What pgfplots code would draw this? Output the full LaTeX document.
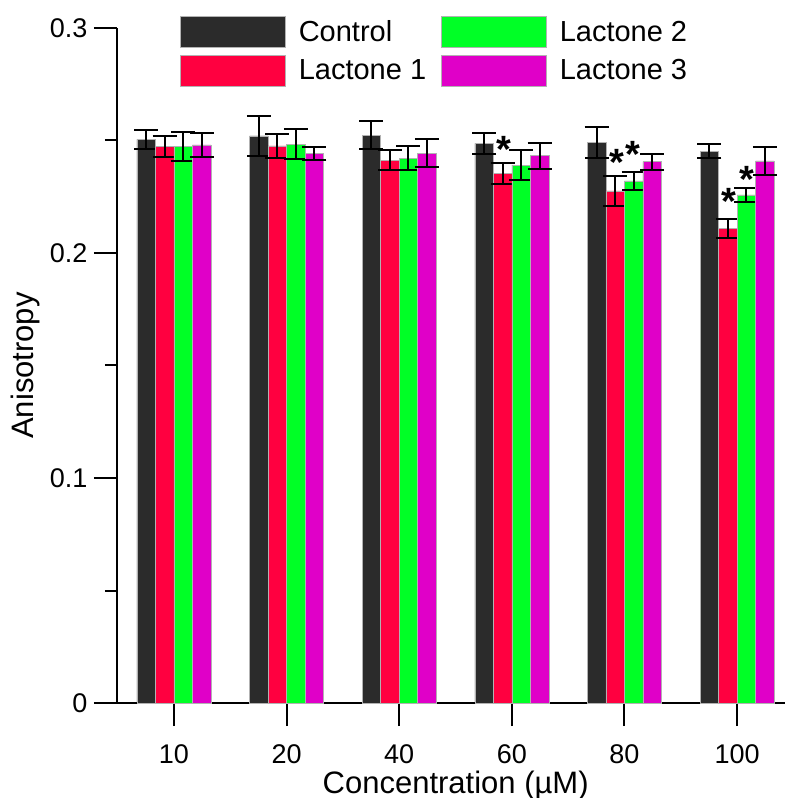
\documentclass[border=0pt]{standalone}
\usepackage{fontspec}
\setmainfont{Liberation Sans}
\usepackage{pgfplots}
\pgfplotsset{compat=1.18}
\usetikzlibrary{calc}
\definecolor{ctrl}{HTML}{2B2B2B}
\definecolor{lac1}{HTML}{FF0040}
\definecolor{lac2}{HTML}{00FF26}
\definecolor{lac3}{HTML}{E000C8}

\pgfplotsset{
  barplot/.style={
    fill=#1, draw=gray!60, line width=0.6bp,
    legend image code/.code={\draw[##1,draw=gray!60,line width=0.6bp] (0bp,-15.5bp) rectangle (105bp,15.5bp);},
    error bars/.cd, y dir=both, y explicit,
    error bar style={line width=2bp, black},
    error mark options={rotate=90, mark size=12bp, line width=2bp, black},
  },
}

\begin{document}
\begin{tikzpicture}
\begin{axis}[
  name=ax,
  scale only axis, width=668bp, height=675bp,
  xmin=-0.506, xmax=5.426, ymin=0, ymax=0.3,
  axis x line*=bottom, axis y line*=left,
  axis line style={line width=2bp, black},
  ybar=0pt, bar width=18.5bp,
  xtick={0,...,5}, xticklabels={10,20,40,60,80,100},
  ytick={0,0.1,0.2,0.3}, minor ytick={0.05,0.15,0.25},
  yticklabels={0,0.1,0.2,0.3},
  tick align=outside, major tick length=23bp, minor tick length=12bp,
  every tick/.style={line width=2bp, black},
  ticklabel style={font=\fontsize{27bp}{32bp}\selectfont},
  /pgf/number format/assume math mode=true,
  xticklabel shift=15bp, yticklabel shift=3bp,
  xlabel={Concentration (µM)}, ylabel={Anisotropy},
  label style={font=\fontsize{31bp}{36bp}\selectfont},
  xlabel style={at={(axis description cs:0.507,0)}, anchor=center, yshift=-82bp},
  ylabel style={at={(axis description cs:0,0.5)}, anchor=center, yshift=92bp},
  legend columns=2,
  transpose legend,
  legend cell align=left,
  legend style={at={(axis description cs:0.0943,1.0178)}, anchor=north west,
    draw=none, fill=none, inner sep=0pt, font=\fontsize{29bp}{33bp}\selectfont,
    nodes={inner sep=0pt},
    /tikz/row sep=7bp,
    /tikz/every odd column/.style={column sep=13bp},
    /tikz/every even column/.style={column sep=15bp}},
]
\addplot[barplot=ctrl] coordinates {
  (0,0.2505) +- (0,0.0043)
  (1,0.2520) +- (0,0.0089)
  (2,0.2524) +- (0,0.0063)
  (3,0.2487) +- (0,0.0047)
  (4,0.2492) +- (0,0.0070)
  (5,0.2453) +- (0,0.0030)
};
\addplot[barplot=lac1] coordinates {
  (0,0.2473) +- (0,0.0048)
  (1,0.2476) +- (0,0.0055)
  (2,0.2413) +- (0,0.0046)
  (3,0.2354) +- (0,0.0048)
  (4,0.2276) +- (0,0.0068)
  (5,0.2110) +- (0,0.0043)
};
\addplot[barplot=lac2] coordinates {
  (0,0.2473) +- (0,0.0065)
  (1,0.2483) +- (0,0.0066)
  (2,0.2421) +- (0,0.0054)
  (3,0.2391) +- (0,0.0068)
  (4,0.2320) +- (0,0.0038)
  (5,0.2258) +- (0,0.0033)
};
\addplot[barplot=lac3] coordinates {
  (0,0.2480) +- (0,0.0052)
  (1,0.2443) +- (0,0.0030)
  (2,0.2443) +- (0,0.0063)
  (3,0.2432) +- (0,0.0058)
  (4,0.2406) +- (0,0.0036)
  (5,0.2409) +- (0,0.0062)
};
\legend{Control, Lactone 1, Lactone 2, Lactone 3}
\begin{scope}[every node/.style={anchor=base, inner sep=0pt, font=\bfseries\fontsize{38bp}{42bp}\selectfont}]
\node at (axis cs:2.93,0.2404) {*};
\node at (axis cs:3.934,0.2346) {*};
\node at (axis cs:4.076,0.2382) {*};
\node at (axis cs:4.929,0.2169) {*};
\node at (axis cs:5.089,0.2269) {*};
\end{scope}
\end{axis}
\pgfresetboundingbox
\path[use as bounding box] ($(ax.south west)+(-117bp,-95bp)$) rectangle ($(ax.north east)+(0bp,28bp)$);
\end{tikzpicture}
\end{document}
